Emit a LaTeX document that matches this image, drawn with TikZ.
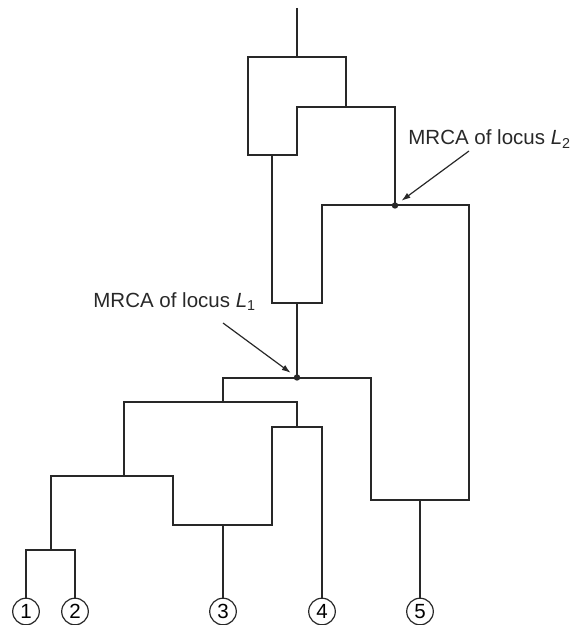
\documentclass[tikz,border=0pt]{standalone}
\usepackage{fontspec}
\setmainfont{Liberation Sans}
\usepackage{xcolor}
\usetikzlibrary{arrows.meta}
\definecolor{ink}{RGB}{40,40,40}
\tikzset{%
	branch/.style   = {draw=ink, line width=1pt, line join=miter},
	leaf/.style     = {draw=ink, circle, line width=0.6pt, minimum size=13.3pt, inner sep=0pt, font=\fontsize{10.25}{12}\selectfont},
	waypoint/.style = {coordinate},
	pointer/.style  = {draw=ink, line width=0.6pt, -{Latex[length=4.5pt,width=3pt]}},
	tag/.style      = {anchor=base west, inner sep=0pt, text=ink, font=\fontsize{10.25}{12}\selectfont},
	mrca/.style     = {fill=ink},
}

\begin{document}
\begin{tikzpicture}[x=0.5pt,y=-0.5pt]
	\useasboundingbox (0,0) rectangle (580,625);
	% junctions of the graph
	\node [waypoint] (top) at (297,8) {};
	\node [waypoint] (n0) at (297,57) {};
	\node [waypoint] (n1) at (346,107) {};
	\node [waypoint] (h1) at (272,155) {};
	\node [waypoint] (h1a) at (248,155) {};
	\node [waypoint] (h1b) at (297,155) {};
	\node [waypoint] (n2) at (395,205.5) {};
	\node [waypoint] (h2) at (297,303) {};
	\node [waypoint] (h2b) at (322,303) {};
	\node [waypoint] (n3) at (297,377.5) {};
	\node [waypoint] (h3) at (420,500) {};
	\node [waypoint] (h3a) at (371,500) {};
	\node [waypoint] (h3b) at (469,500) {};
	\node [waypoint] (n4) at (223,402) {};
	\node [waypoint] (n5) at (297,427) {};
	\node [waypoint] (n6) at (124,476) {};
	\node [waypoint] (h4) at (223,525) {};
	\node [waypoint] (h4a) at (173,525) {};
	\node [waypoint] (h4b) at (272,525) {};
	\node [waypoint] (n7) at (51,550) {};
	
	% sampled sequences
	\node [leaf] (l1) at (26,611.5) {1};
	\node [leaf] (l2) at (75,611.5) {2};
	\node [leaf] (l3) at (223,611.5) {3};
	\node [leaf] (l4) at (322,611.5) {4};
	\node [leaf] (l5) at (420,611.5) {5};
	
	\draw [branch] (top) -- (n0);
	\draw [branch] (n0) -| (n1);
	\draw [branch] (n0) -| (h1a) -- (h1);
	\draw [branch] (n1) -| (h1b) -- (h1);
	\draw [branch] (n1) -| (n2);
	\draw [branch] (h1) |- (h2);
	\draw [branch] (n2) -| (h2b) -- (h2);
	\draw [branch] (h2) -- (n3);
	\draw [branch] (n2) -| (h3b) -- (h3);
	\draw [branch] (n3) -| (h3a) -- (h3);
	\draw [branch] (h3) -- (l5);
	\draw [branch] (n3) -| (n4);
	\draw [branch] (n4) -| (n6);
	\draw [branch] (n4) -| (n5);
	\draw [branch] (n5) -| (h4b) -- (h4);
	\draw [branch] (n5) -| (l4);
	\draw [branch] (n6) -| (h4a) -- (h4);
	\draw [branch] (n6) -| (n7);
	\draw [branch] (h4) -- (l3);
	\draw [branch] (n7) -| (l1);
	\draw [branch] (n7) -| (l2);
	
	\fill [mrca] (n2) circle (1.6pt);
	\fill [mrca] (n3) circle (1.6pt);
	
	% labels
	\node [tag] (t2) at (408,145) {MRCA of locus \textit{L}\textsubscript{2}};
	\node [tag] (t1) at (93,307.7) {MRCA of locus \textit{L}\textsubscript{1}};
	\node [waypoint] (a2) at (469,151) {};
	\node [waypoint] (a1) at (223,323) {};
	\draw [pointer, shorten >=4pt] (a2) -- (n2);
	\draw [pointer, shorten >=3.9pt] (a1) -- (n3);
\end{tikzpicture}
\end{document}
